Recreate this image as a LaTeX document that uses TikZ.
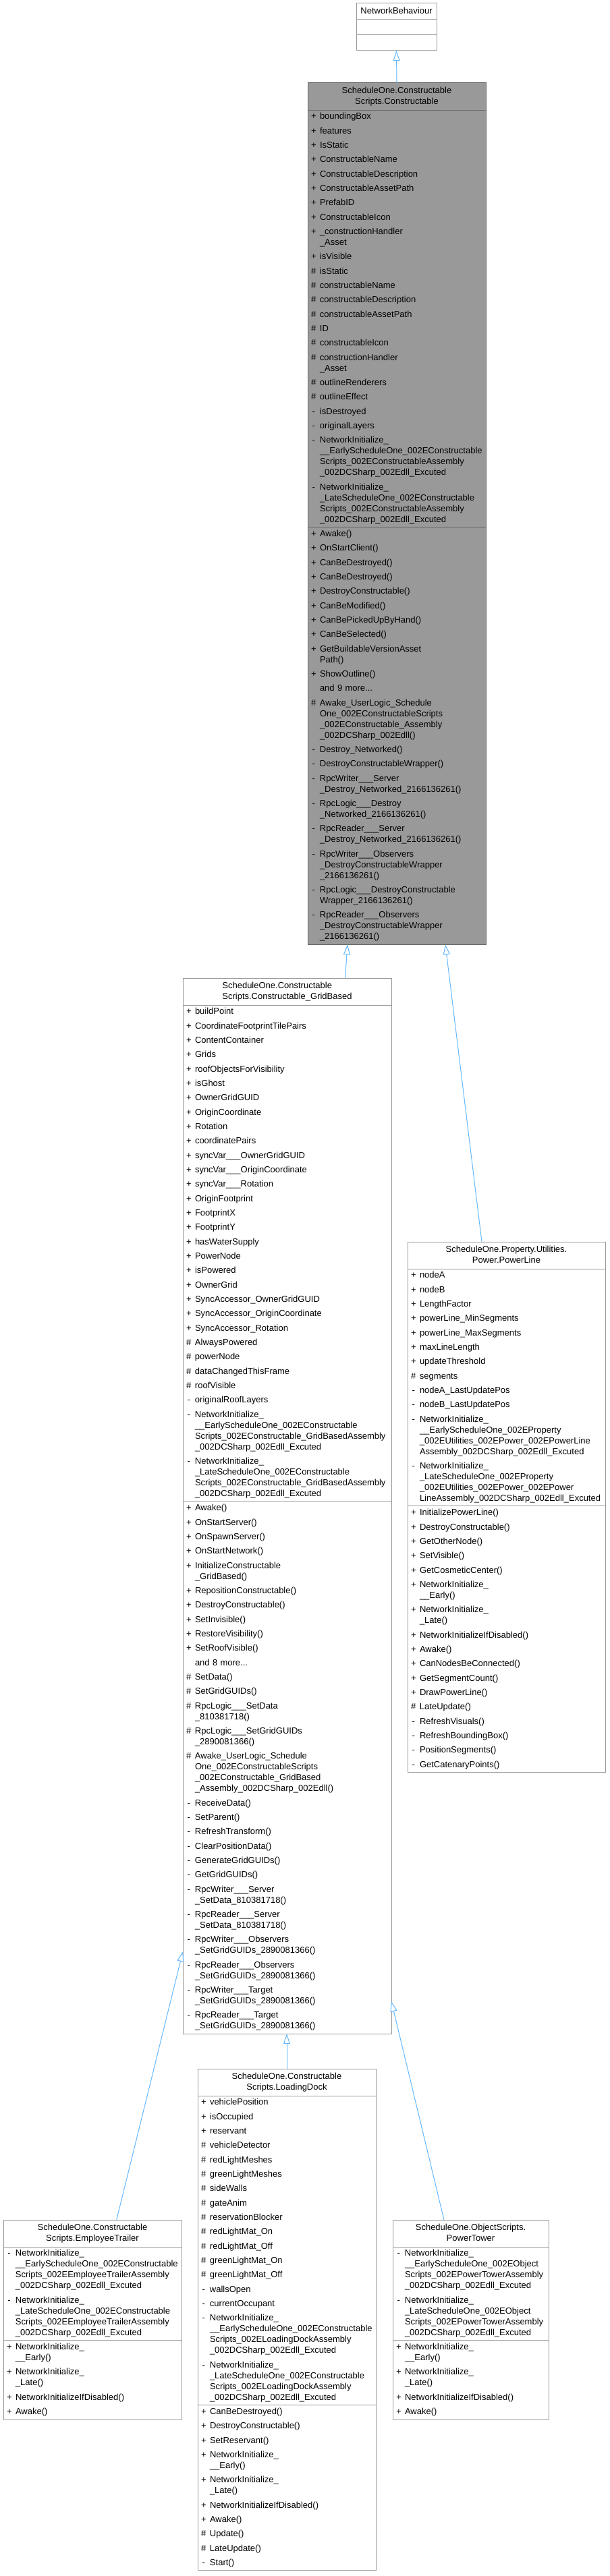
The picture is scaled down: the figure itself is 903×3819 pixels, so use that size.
\documentclass[tikz,border=0pt]{standalone}
\usepackage{fontspec}
\setmainfont{Liberation Sans}
\usetikzlibrary{positioning,arrows.meta}
\definecolor{edgeblue}{HTML}{63B8FF}
\definecolor{boxline}{HTML}{999999}
\definecolor{curfill}{HTML}{999999}
\definecolor{curline}{HTML}{666666}
% member markers and spacing
\newcommand\mpub{\makebox[13pt][l]{+}}
\newcommand\mpro{\makebox[13pt][l]{\#}}
\newcommand\mpri{\makebox[13pt][l]{\hspace{1.5pt}-}}
\newcommand\mnone{\hspace*{13pt}}
\newcommand\nx{\\[5.33pt]}
\tikzset{
    umlpart/.style={
        draw=boxline,fill=white,line width=1pt,outer sep=0pt,inner xsep=5pt,
        text width=#1,font=\fontsize{13}{16}\selectfont\hyphenpenalty10000\relax,
        execute at begin node={\noindent\strut},execute at end node=\strut
    },
    titlepart/.style={umlpart=#1,align=center,inner ysep=4pt},
    listpart/.style={umlpart=#1,align=left,inner ysep=2.67pt},
    curpart/.style={draw=curline,fill=curfill},
    inherit/.style={
        draw=edgeblue,line width=1pt,-{Triangle[open,length=15pt,width=10pt,fill=white]}
    }
}
\begin{document}
\catcode`\_=12
\begin{tikzpicture}[x=1pt,y=-1pt]
\useasboundingbox[fill=white] (0,0) rectangle (903,3819);
% NetworkBehaviour
\node[titlepart=109pt,anchor=north west] (nb-t) at (528,5) {NetworkBehaviour};
\node[listpart=109pt,minimum height=23pt,below=0pt of nb-t] (nb-a) {};
\node[listpart=109pt,minimum height=23pt,below=0pt of nb-a] (nb-m) {};
% Constructable
\node[titlepart=254pt,curpart,anchor=north west] (con-t) at (456,123) {ScheduleOne.Constructable\\Scripts.Constructable};
\node[listpart=254pt,curpart,below=0pt of con-t] (con-a) {\mpub boundingBox\nx
\mpub features\nx
\mpub IsStatic\nx
\mpub ConstructableName\nx
\mpub ConstructableDescription\nx
\mpub ConstructableAssetPath\nx
\mpub PrefabID\nx
\mpub ConstructableIcon\nx
\mpub _constructionHandler\\\mnone _Asset\nx
\mpub isVisible\nx
\mpro isStatic\nx
\mpro constructableName\nx
\mpro constructableDescription\nx
\mpro constructableAssetPath\nx
\mpro ID\nx
\mpro constructableIcon\nx
\mpro constructionHandler\\\mnone _Asset\nx
\mpro outlineRenderers\nx
\mpro outlineEffect\nx
\mpri isDestroyed\nx
\mpri originalLayers\nx
\mpri NetworkInitialize_\\\mnone __EarlyScheduleOne_002EConstructable\\\mnone Scripts_002EConstructableAssembly\\\mnone _002DCSharp_002Edll_Excuted\nx
\mpri NetworkInitialize_\\\mnone _LateScheduleOne_002EConstructable\\\mnone Scripts_002EConstructableAssembly\\\mnone _002DCSharp_002Edll_Excuted};
\node[listpart=254pt,curpart,below=0pt of con-a] (con-m) {\mpub Awake()\nx
\mpub OnStartClient()\nx
\mpub CanBeDestroyed()\nx
\mpub CanBeDestroyed()\nx
\mpub DestroyConstructable()\nx
\mpub CanBeModified()\nx
\mpub CanBePickedUpByHand()\nx
\mpub CanBeSelected()\nx
\mpub GetBuildableVersionAsset\\\mnone Path()\nx
\mpub ShowOutline()\nx
\mnone and 9 more...\nx
\mpro Awake_UserLogic_Schedule\\\mnone One_002EConstructableScripts\\\mnone _002EConstructable_Assembly\\\mnone _002DCSharp_002Edll()\nx
\mpri Destroy_Networked()\nx
\mpri DestroyConstructableWrapper()\nx
\mpri RpcWriter___Server\\\mnone _Destroy_Networked_2166136261()\nx
\mpri RpcLogic___Destroy\\\mnone _Networked_2166136261()\nx
\mpri RpcReader___Server\\\mnone _Destroy_Networked_2166136261()\nx
\mpri RpcWriter___Observers\\\mnone _DestroyConstructableWrapper\\\mnone _2166136261()\nx
\mpri RpcLogic___DestroyConstructable\\\mnone Wrapper_2166136261()\nx
\mpri RpcReader___Observers\\\mnone _DestroyConstructableWrapper\\\mnone _2166136261()};
% Constructable_GridBased
\node[titlepart=299pt,anchor=north west] (grid-t) at (271,1450) {\makebox[0pt][l]{ScheduleOne.Constructable}\phantom{Scripts.Constructable_GridBased}\\Scripts.Constructable_GridBased};
\node[listpart=299pt,below=0pt of grid-t] (grid-a) {\mpub buildPoint\nx
\mpub CoordinateFootprintTilePairs\nx
\mpub ContentContainer\nx
\mpub Grids\nx
\mpub roofObjectsForVisibility\nx
\mpub isGhost\nx
\mpub OwnerGridGUID\nx
\mpub OriginCoordinate\nx
\mpub Rotation\nx
\mpub coordinatePairs\nx
\mpub syncVar___OwnerGridGUID\nx
\mpub syncVar___OriginCoordinate\nx
\mpub syncVar___Rotation\nx
\mpub OriginFootprint\nx
\mpub FootprintX\nx
\mpub FootprintY\nx
\mpub hasWaterSupply\nx
\mpub PowerNode\nx
\mpub isPowered\nx
\mpub OwnerGrid\nx
\mpub SyncAccessor_OwnerGridGUID\nx
\mpub SyncAccessor_OriginCoordinate\nx
\mpub SyncAccessor_Rotation\nx
\mpro AlwaysPowered\nx
\mpro powerNode\nx
\mpro dataChangedThisFrame\nx
\mpro roofVisible\nx
\mpri originalRoofLayers\nx
\mpri NetworkInitialize_\\\mnone __EarlyScheduleOne_002EConstructable\\\mnone Scripts_002EConstructable_GridBasedAssembly\\\mnone _002DCSharp_002Edll_Excuted\nx
\mpri NetworkInitialize_\\\mnone _LateScheduleOne_002EConstructable\\\mnone Scripts_002EConstructable_GridBasedAssembly\\\mnone _002DCSharp_002Edll_Excuted};
\node[listpart=299pt,below=0pt of grid-a] (grid-m) {\mpub Awake()\nx
\mpub OnStartServer()\nx
\mpub OnSpawnServer()\nx
\mpub OnStartNetwork()\nx
\mpub InitializeConstructable\\\mnone _GridBased()\nx
\mpub RepositionConstructable()\nx
\mpub DestroyConstructable()\nx
\mpub SetInvisible()\nx
\mpub RestoreVisibility()\nx
\mpub SetRoofVisible()\nx
\mnone and 8 more...\nx
\mpro SetData()\nx
\mpro SetGridGUIDs()\nx
\mpro RpcLogic___SetData\\\mnone _810381718()\nx
\mpro RpcLogic___SetGridGUIDs\\\mnone _2890081366()\nx
\mpro Awake_UserLogic_Schedule\\\mnone One_002EConstructableScripts\\\mnone _002EConstructable_GridBased\\\mnone _Assembly_002DCSharp_002Edll()\nx
\mpri ReceiveData()\nx
\mpri SetParent()\nx
\mpri RefreshTransform()\nx
\mpri ClearPositionData()\nx
\mpri GenerateGridGUIDs()\nx
\mpri GetGridGUIDs()\nx
\mpri RpcWriter___Server\\\mnone _SetData_810381718()\nx
\mpri RpcReader___Server\\\mnone _SetData_810381718()\nx
\mpri RpcWriter___Observers\\\mnone _SetGridGUIDs_2890081366()\nx
\mpri RpcReader___Observers\\\mnone _SetGridGUIDs_2890081366()\nx
\mpri RpcWriter___Target\\\mnone _SetGridGUIDs_2890081366()\nx
\mpri RpcReader___Target\\\mnone _SetGridGUIDs_2890081366()};
% PowerLine
\node[titlepart=283pt,anchor=north west] (pl-t) at (604,1841) {ScheduleOne.Property.Utilities.\\Power.PowerLine};
\node[listpart=283pt,below=0pt of pl-t] (pl-a) {\mpub nodeA\nx
\mpub nodeB\nx
\mpub LengthFactor\nx
\mpub powerLine_MinSegments\nx
\mpub powerLine_MaxSegments\nx
\mpub maxLineLength\nx
\mpub updateThreshold\nx
\mpro segments\nx
\mpri nodeA_LastUpdatePos\nx
\mpri nodeB_LastUpdatePos\nx
\mpri NetworkInitialize_\\\mnone __EarlyScheduleOne_002EProperty\\\mnone _002EUtilities_002EPower_002EPowerLine\\\mnone Assembly_002DCSharp_002Edll_Excuted\nx
\mpri NetworkInitialize_\\\mnone _LateScheduleOne_002EProperty\\\mnone _002EUtilities_002EPower_002EPower\\\mnone LineAssembly_002DCSharp_002Edll_Excuted};
\node[listpart=283pt,below=0pt of pl-a] (pl-m) {\mpub InitializePowerLine()\nx
\mpub DestroyConstructable()\nx
\mpub GetOtherNode()\nx
\mpub SetVisible()\nx
\mpub GetCosmeticCenter()\nx
\mpub NetworkInitialize_\\\mnone __Early()\nx
\mpub NetworkInitialize_\\\mnone _Late()\nx
\mpub NetworkInitializeIfDisabled()\nx
\mpub Awake()\nx
\mpub CanNodesBeConnected()\nx
\mpub GetSegmentCount()\nx
\mpub DrawPowerLine()\nx
\mpro LateUpdate()\nx
\mpri RefreshVisuals()\nx
\mpri RefreshBoundingBox()\nx
\mpri PositionSegments()\nx
\mpri GetCatenaryPoints()};
% LoadingDock
\node[titlepart=254pt,anchor=north west] (ld-t) at (293,3067) {ScheduleOne.Constructable\\Scripts.LoadingDock};
\node[listpart=254pt,below=0pt of ld-t] (ld-a) {\mpub vehiclePosition\nx
\mpub isOccupied\nx
\mpub reservant\nx
\mpro vehicleDetector\nx
\mpro redLightMeshes\nx
\mpro greenLightMeshes\nx
\mpro sideWalls\nx
\mpro gateAnim\nx
\mpro reservationBlocker\nx
\mpro redLightMat_On\nx
\mpro redLightMat_Off\nx
\mpro greenLightMat_On\nx
\mpro greenLightMat_Off\nx
\mpri wallsOpen\nx
\mpri currentOccupant\nx
\mpri NetworkInitialize_\\\mnone __EarlyScheduleOne_002EConstructable\\\mnone Scripts_002ELoadingDockAssembly\\\mnone _002DCSharp_002Edll_Excuted\nx
\mpri NetworkInitialize_\\\mnone _LateScheduleOne_002EConstructable\\\mnone Scripts_002ELoadingDockAssembly\\\mnone _002DCSharp_002Edll_Excuted};
\node[listpart=254pt,below=0pt of ld-a] (ld-m) {\mpub CanBeDestroyed()\nx
\mpub DestroyConstructable()\nx
\mpub SetReservant()\nx
\mpub NetworkInitialize_\\\mnone __Early()\nx
\mpub NetworkInitialize_\\\mnone _Late()\nx
\mpub NetworkInitializeIfDisabled()\nx
\mpub Awake()\nx
\mpro Update()\nx
\mpro LateUpdate()\nx
\mpri Start()};
% EmployeeTrailer
\node[titlepart=254pt,anchor=north west] (et-t) at (5,3291) {ScheduleOne.Constructable\\Scripts.EmployeeTrailer};
\node[listpart=254pt,below=0pt of et-t] (et-a) {\mpri NetworkInitialize_\\\mnone __EarlyScheduleOne_002EConstructable\\\mnone Scripts_002EEmployeeTrailerAssembly\\\mnone _002DCSharp_002Edll_Excuted\nx
\mpri NetworkInitialize_\\\mnone _LateScheduleOne_002EConstructable\\\mnone Scripts_002EEmployeeTrailerAssembly\\\mnone _002DCSharp_002Edll_Excuted};
\node[listpart=254pt,below=0pt of et-a] (et-m) {\mpub NetworkInitialize_\\\mnone __Early()\nx
\mpub NetworkInitialize_\\\mnone _Late()\nx
\mpub NetworkInitializeIfDisabled()\nx
\mpub Awake()};
% PowerTower
\node[titlepart=221pt,anchor=north west] (pt-t) at (582,3291) {ScheduleOne.ObjectScripts.\\PowerTower};
\node[listpart=221pt,below=0pt of pt-t] (pt-a) {\mpri NetworkInitialize_\\\mnone __EarlyScheduleOne_002EObject\\\mnone Scripts_002EPowerTowerAssembly\\\mnone _002DCSharp_002Edll_Excuted\nx
\mpri NetworkInitialize_\\\mnone _LateScheduleOne_002EObject\\\mnone Scripts_002EPowerTowerAssembly\\\mnone _002DCSharp_002Edll_Excuted};
\node[listpart=221pt,below=0pt of pt-a] (pt-m) {\mpub NetworkInitialize_\\\mnone __Early()\nx
\mpub NetworkInitialize_\\\mnone _Late()\nx
\mpub NetworkInitializeIfDisabled()\nx
\mpub Awake()};
% inheritance
\draw[inherit] (con-t.north) -- (nb-m.south);
\draw[inherit] ([xshift=86pt]grid-t.north) -- ([xshift=-73pt]con-m.south);
\draw[inherit] ([xshift=-36.5pt]pl-t.north) -- ([xshift=72pt]con-m.south);
\draw[inherit] (ld-t.north) -- (ld-t.north |- grid-m.south);
\draw[inherit] ([xshift=35.7pt]et-t.north) -- ([yshift=122pt]grid-m.south west);
\draw[inherit] ([xshift=-39.5pt]pt-t.north) -- ([yshift=48pt]grid-m.south east);
\end{tikzpicture}
\end{document}
